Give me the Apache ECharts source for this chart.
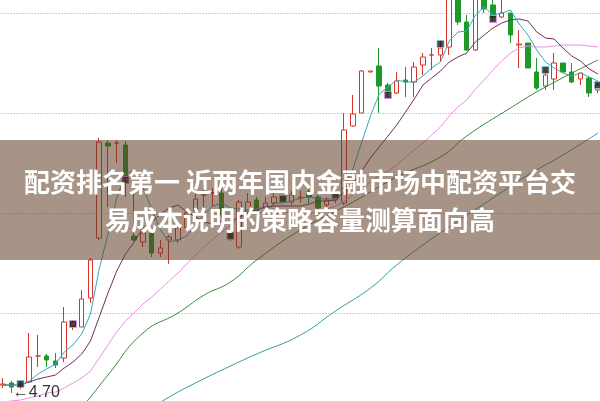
<!DOCTYPE html>
<html><head><meta charset="utf-8">
<script src="https://cdn.jsdelivr.net/npm/echarts@6/dist/echarts.min.js"></script>
<style>html,body{margin:0;padding:0;background:#fff}#c{width:600px;height:401px}</style>
</head><body><div id="c"></div>
<script>
// ---- data ----
const opens  = [4.78,4.80,4.77,4.81,5.07,5.07,5.02,5.05,5.37,5.36,5.65,6.25,7.20,7.20,7.18,6.27,6.21,6.30,6.10,6.23,6.23,6.35,6.52,6.68,6.70,6.70,6.30,6.16,6.51,6.63,6.55,6.60,6.66,6.61,6.65,6.71,6.66,6.58,6.63,6.60,7.37,7.50,7.91,7.97,7.78,7.70,7.83,7.81,7.98,8.08,8.08,8.16,8.80,8.41,8.13,8.80,8.58,8.46,8.50,8.18,8.20,7.91,7.77,7.84,8.00,7.91,7.84,7.85,7.73];
const closes = [4.79,4.76,4.79,5.06,5.07,5.03,4.98,5.41,5.41,5.64,6.03,7.21,7.17,7.20,6.85,6.23,6.30,6.10,6.15,6.26,6.35,6.50,6.64,6.68,6.70,6.48,6.25,6.61,6.61,6.51,6.60,6.66,6.63,6.68,6.66,6.66,6.55,6.63,6.68,7.33,7.49,7.92,7.92,7.77,7.71,7.82,7.81,7.96,8.06,8.08,8.15,8.85,8.41,8.13,8.85,8.54,8.46,8.50,8.28,8.19,7.95,7.75,7.88,8.00,7.91,7.81,7.90,7.70,7.78];
const lows   = [4.75,4.70,4.74,4.80,4.96,4.96,4.95,5.01,5.33,5.36,5.60,6.23,6.56,7.00,6.66,6.22,6.16,6.06,6.06,5.99,6.20,6.32,6.48,6.56,6.56,6.45,6.22,6.14,6.46,6.48,6.52,6.57,6.60,6.58,6.60,6.60,6.45,6.55,6.60,6.58,7.36,7.50,7.91,7.50,7.65,7.69,7.66,7.66,7.88,7.93,8.01,8.08,8.38,8.12,8.12,8.50,8.42,8.45,8.20,7.95,7.95,7.73,7.73,7.73,7.91,7.80,7.78,7.66,7.70];
const highs  = [4.85,4.82,4.82,5.30,5.28,5.09,5.10,5.56,5.43,5.73,6.05,7.25,7.23,7.23,7.22,6.70,6.33,6.31,6.23,6.28,6.41,6.55,6.70,6.78,6.75,6.75,6.33,6.63,6.70,6.66,6.66,6.70,6.68,6.72,6.72,6.76,6.68,6.66,6.70,7.50,7.68,7.93,7.92,8.15,7.80,7.91,7.96,8.01,8.10,8.15,8.23,8.95,8.90,8.48,8.95,8.90,8.70,8.70,8.50,8.33,8.20,8.05,7.93,8.10,8.00,8.00,7.90,7.87,7.80];

const ma5  = [4.78,4.78,4.78,4.82,4.89,4.94,4.99,5.11,5.18,5.29,5.49,5.94,6.29,6.65,6.89,6.93,6.75,6.54,6.33,6.21,6.23,6.27,6.38,6.49,6.57,6.60,6.55,6.54,6.53,6.49,6.52,6.60,6.60,6.62,6.65,6.66,6.64,6.64,6.64,6.77,6.94,7.21,7.47,7.69,7.76,7.83,7.81,7.81,7.87,7.95,8.01,8.22,8.31,8.32,8.48,8.56,8.48,8.50,8.53,8.39,8.28,8.13,8.01,7.95,7.90,7.87,7.90,7.86,7.82];
const ma10 = [4.78,4.78,4.78,4.81,4.84,4.86,4.88,4.95,5.01,5.09,5.22,5.46,5.70,5.92,6.09,6.21,6.35,6.41,6.49,6.55,6.58,6.51,6.46,6.41,6.39,6.42,6.41,6.46,6.51,6.53,6.56,6.57,6.57,6.57,6.57,6.59,6.62,6.62,6.63,6.71,6.80,6.92,7.05,7.16,7.27,7.38,7.51,7.64,7.78,7.85,7.92,8.01,8.06,8.10,8.21,8.28,8.35,8.40,8.43,8.44,8.42,8.31,8.25,8.24,8.15,8.07,8.02,7.94,7.89];
const ma20 = [4.61,4.62,4.63,4.65,4.67,4.70,4.71,4.75,4.80,4.85,4.92,5.05,5.18,5.31,5.42,5.50,5.59,5.66,5.74,5.82,5.90,5.99,6.08,6.16,6.24,6.31,6.38,6.44,6.50,6.54,6.57,6.54,6.52,6.49,6.48,6.50,6.51,6.54,6.57,6.62,6.68,6.75,6.81,6.87,6.92,6.98,7.06,7.13,7.20,7.28,7.36,7.47,7.56,7.63,7.74,7.83,7.93,8.02,8.10,8.15,8.17,8.16,8.16,8.17,8.18,8.18,8.18,8.17,8.16];
const ma60Idx  = [8,10,12,16,20,23,26,29,34,40,45,50,53,58,62,68];
const ma60Val  = [4.45,4.66,4.88,5.30,5.50,5.68,5.81,6.03,6.33,6.61,6.86,7.06,7.27,7.55,7.76,8.03];
const ma120Idx = [17,19,22,26,29,34,38,42,45,48,52,56,60,64,68];
const ma120Val = [4.55,4.66,4.80,4.97,5.09,5.28,5.52,5.75,5.98,6.18,6.42,6.65,6.88,7.08,7.30];

const pinkMarkIdx = [8,14,26,44,56];
const pinkMarkVal = [5.39,6.83,6.27,7.68,8.44];
const cyanMarkIdx = [2,32,38,50,62,68];
const cyanMarkVal = [4.79,6.64,6.68,8.19,7.93,7.78];

const lowLabel = '4.70';
const titleLine1 = '配资排名第一 近两年国内金融市场中配资平台交';
const titleLine2 = '易成本说明的策略容量测算面向高';

// ---- build ----
const n = opens.length;
const categories = opens.map((_, i) => 'D' + (i + 1));
const candles = opens.map((o, i) => [o, closes[i], lows[i], highs[i]]);
function sparse(idx, vals) { const a = new Array(n).fill(null); idx.forEach((k, j) => a[k] = vals[j]); return a; }
function pts(idx, vals) { return idx.map((k, j) => [categories[k], vals[j]]); }

const chart = echarts.init(document.getElementById('c'), null, {renderer: 'canvas'});
function maLine(name, data, color, smooth) {
  return {name, type: 'line', data, symbol: 'none', smooth: smooth, connectNulls: true,
          lineStyle: {width: 1, color}, z: 3, silent: true};
}
chart.setOption({
  animation: false,
  backgroundColor: '#ffffff',
  grid: {left: -1.4, top: -37, width: 603.75, height: 450, outerBoundsMode: 'none', containLabel: false},
  xAxis: {type: 'category', data: categories, boundaryGap: true,
          axisLine: {show: false}, axisTick: {show: false}, axisLabel: {show: false}, splitLine: {show: false}},
  yAxis: {type: 'value', min: 4.5, max: 9.0, interval: 1,
          axisLine: {show: false}, axisTick: {show: false}, axisLabel: {show: false},
          splitLine: {show: true, lineStyle: {color: '#a3a3a3', width: 1, type: [1, 2]}}},
  series: [
    {type: 'candlestick', data: candles, barWidth: 5, z: 2,
     itemStyle: {color: '#ffffff', color0: '#1f982a', borderColor: '#d9342b', borderColor0: '#1f982a', borderWidth: 1}},
    maLine('MA120', sparse(ma120Idx, ma120Val), '#2f9ea3', true),
    maLine('MA60', sparse(ma60Idx, ma60Val), '#3b8a3b', true),
    maLine('MA20', ma20, '#e792e6', false),
    maLine('MA10', ma10, '#6e2f5f', false),
    maLine('MA5', ma5, '#34a9bb', false),
    {type: 'scatter', data: pts(pinkMarkIdx, pinkMarkVal), symbol: 'rect', symbolSize: 7, z: 5,
     itemStyle: {color: '#1c1c1c', borderColor: '#e58ee8', borderWidth: 1}},
    {type: 'scatter', data: pts(cyanMarkIdx, cyanMarkVal), symbol: 'rect', symbolSize: 7, z: 5,
     itemStyle: {color: '#1c1c1c', borderColor: '#6fd0d8', borderWidth: 1}}
  ]
});

// low-point annotation anchored to data
let lowI = 0; lows.forEach((v, i) => { if (v < lows[lowI]) lowI = i; });
const p = chart.convertToPixel({gridIndex: 0}, [lowI, lows[lowI]]);
chart.setOption({
  graphic: [
    {type: 'text', z: 50, style: {text: '←' + lowLabel, x: p[0] + 1, y: p[1], align: 'left', verticalAlign: 'middle',
      fill: '#333333', font: '16px "Liberation Sans", "DejaVu Sans", sans-serif'}},
    {type: 'rect', z: 100, shape: {x: 0, y: 140, width: 600, height: 120}, style: {fill: 'rgba(95,60,35,0.55)'}},
    {type: 'text', z: 101, style: {text: titleLine1, x: 300, y: 182, align: 'center', verticalAlign: 'middle',
      fill: '#ffffff', font: 'bold 26px "Noto Sans CJK SC", sans-serif'}},
    {type: 'text', z: 101, style: {text: titleLine2, x: 300, y: 220, align: 'center', verticalAlign: 'middle',
      fill: '#ffffff', font: 'bold 26px "Noto Sans CJK SC", sans-serif'}}
  ]
});
</script></body></html>
